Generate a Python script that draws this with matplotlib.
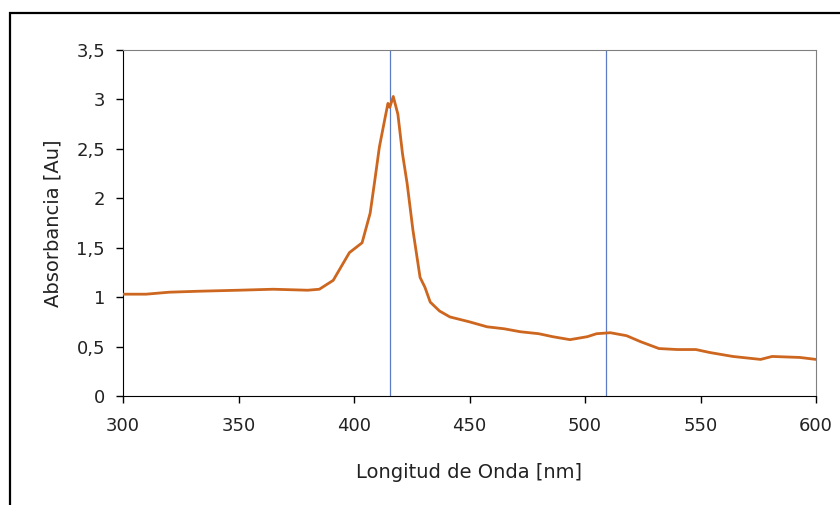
import matplotlib
matplotlib.use("Agg")
from matplotlib import pyplot as plt
from matplotlib.patches import Rectangle
from matplotlib.ticker import FuncFormatter, MultipleLocator

# espectro
longitud = [300, 310, 320, 333, 350, 365, 380, 385, 391, 398, 403.5, 407, 409, 411,
            413.5, 414.7, 415.5, 417, 419, 421, 423, 425.5, 428.6, 430.7, 433, 437,
            441.5, 450, 457.6, 465, 472, 480, 486, 493.5, 501, 505, 511, 518, 524,
            532, 540, 548, 554, 564, 576, 581, 593, 600]
absorb = [1.03, 1.03, 1.05, 1.06, 1.07, 1.08, 1.07, 1.08, 1.17, 1.45, 1.55, 1.85, 2.18,
          2.52, 2.82, 2.96, 2.92, 3.03, 2.85, 2.45, 2.15, 1.68, 1.20, 1.10, 0.95, 0.86,
          0.80, 0.75, 0.70, 0.68, 0.65, 0.63, 0.60, 0.57, 0.60, 0.63, 0.64, 0.61, 0.55,
          0.48, 0.47, 0.47, 0.44, 0.40, 0.37, 0.40, 0.39, 0.37]
marcas = [415.5, 509]

fig = plt.figure(figsize=(8.4, 5.05), dpi=100)
fig.patches.append(Rectangle((10 / 840, -0.1), 1.2, (505 - 13) / 505 + 0.1,
                             transform=fig.transFigure, fill=False,
                             edgecolor="black", linewidth=1.6))

ax = fig.add_axes([123 / 840, 1 - 396 / 505, (816 - 123) / 840, (396 - 50) / 505])
ax.plot(longitud, absorb, color="#cd661f", linewidth=2.0, zorder=3)
for m in marcas:
    ax.axvline(m, color="#5b7bc4", linewidth=0.9, zorder=2)

ax.set_xlim(300, 600)
ax.set_ylim(0, 3.5)
ax.xaxis.set_major_locator(MultipleLocator(50))
ax.yaxis.set_major_locator(MultipleLocator(0.5))
ax.yaxis.set_major_formatter(FuncFormatter(lambda v, p: ("%g" % v).replace(".", ",")))
ax.tick_params(direction="out", length=5, width=1, labelsize=13, labelcolor="#222222")
ax.tick_params(axis="x", pad=10)
ax.tick_params(axis="y", pad=8)

for s in ["top", "right"]:
    ax.spines[s].set_color("#808080")
for s in ["left", "bottom"]:
    ax.spines[s].set_color("black")

ax.set_xlabel("Longitud de Onda [nm]", fontsize=14, color="#222222", labelpad=20)
ax.set_ylabel("Absorbancia [Au]", fontsize=14, color="#222222", labelpad=10)

fig.savefig("out.png", dpi=100)
